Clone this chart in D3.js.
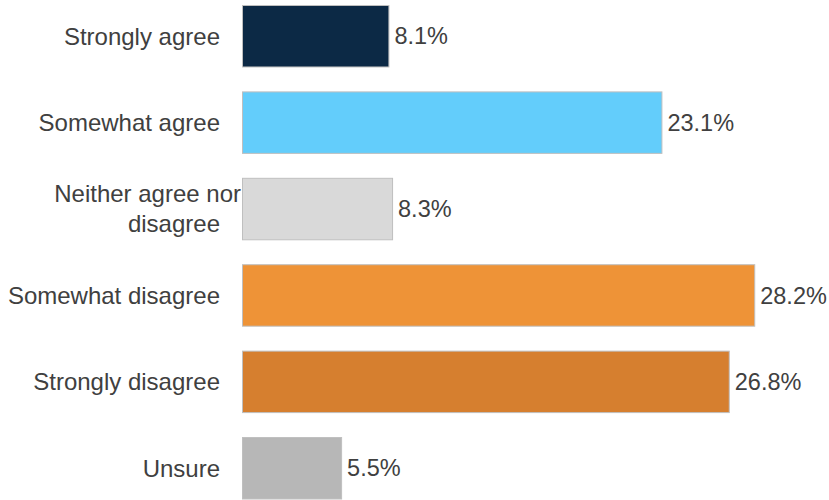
<!DOCTYPE html>
<html>
<head>
<meta charset="utf-8">
<script src="https://cdn.jsdelivr.net/npm/d3@7"></script>
<style>
  html, body { margin: 0; padding: 0; background: #ffffff; }
  svg { display: block; }
  text { font-family: "Liberation Sans", Arial, sans-serif; fill: #404040; }
</style>
</head>
<body>
<svg id="chart" width="829" height="500"></svg>
<script>
const categories = ["Strongly agree", "Somewhat agree", "Neither agree nor disagree", "Somewhat disagree", "Strongly disagree", "Unsure"];
const labelLines = [["Strongly agree"], ["Somewhat agree"], ["Neither agree nor", "disagree"], ["Somewhat disagree"], ["Strongly disagree"], ["Unsure"]];
const values = [8.1, 23.1, 8.3, 28.2, 26.8, 5.5];
const colors = ["#0c2945", "#63cdfb", "#d9d9d9", "#ee9337", "#d67f2f", "#b7b7b7"];

const svg = d3.select("#chart");
const x0 = 242;
const x = d3.scaleLinear().domain([0, 10]).range([x0, x0 + 182]);
const y = d3.scaleBand().domain(categories).range([5, 499.5]).paddingInner(0.277).paddingOuter(0);

const data = categories.map((c, i) => ({ c, v: values[i], color: colors[i], lines: labelLines[i] }));

svg.selectAll("rect.bar").data(data).join("rect")
  .attr("class", "bar")
  .attr("x", x(0) + 0.5)
  .attr("y", d => y(d.c) + 0.5)
  .attr("width", d => x(d.v) - x(0) - 1)
  .attr("height", y.bandwidth() - 1)
  .attr("fill", d => d.color)
  .attr("stroke", "#bfbfbf")
  .attr("stroke-width", 1);

svg.selectAll("text.val").data(data).join("text")
  .attr("class", "val")
  .attr("x", d => x(d.v) + 5)
  .attr("y", d => y(d.c) + y.bandwidth() / 2)
  .attr("dy", "0.35em")
  .attr("font-size", 23.5)
  .text(d => d.v.toFixed(1) + "%");

const lineH = 30;
const cat = svg.selectAll("text.cat").data(data).join("text")
  .attr("class", "cat")
  .attr("text-anchor", "end")
  .attr("font-size", 24);
cat.each(function(d) {
  const t = d3.select(this);
  const n = d.lines.length;
  const cy = y(d.c) + y.bandwidth() / 2;
  d.lines.forEach((ln, j) => {
    const extra = (n > 1 && j < n - 1) ? 21 : 0;
    t.append("tspan")
      .attr("x", 220 + extra)
      .attr("y", cy + (j - (n - 1) / 2) * lineH)
      .attr("dy", "0.35em")
      .text(ln);
  });
});
</script>
</body>
</html>
